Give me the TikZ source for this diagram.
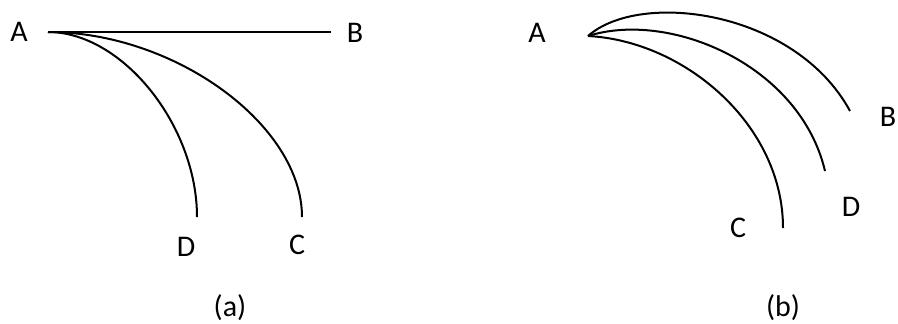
\documentclass[tikz,border=0pt]{standalone}
\usepackage{fontspec}
\setmainfont{Carlito}
\usetikzlibrary{positioning}
\tikzset{lbl/.style={inner sep=1pt}}

\begin{document}
\begin{tikzpicture}[x=0.5pt,y=-0.5pt,line width=1pt,font=\fontsize{15}{18}\selectfont]
\useasboundingbox (0,0) rectangle (898,323);
% (a)
\coordinate (aA) at (48,32);
\coordinate (aB) at (331,32);
\coordinate (aD) at (197,217);
\coordinate (aC) at (302,217);
\draw (aA) -- (aB);
\draw (aA) .. controls +(74,0) and +(0,-92) .. (aD);
\draw (aA) .. controls +(127,0) and +(0,-92) .. (aC);
\node[lbl] (laA) at (19,32) {A};
\node[lbl] (laB) at (355,33) {B};
\node[lbl] (laD) at (186,247) {D};
\node[lbl] (laC) at (297,245) {C};
\node[lbl] (capa) at (230,308) {(a)};
% (b)
\coordinate (bA) at (588,36);
\coordinate (bB) at (850,111);
\coordinate (bD) at (825,171);
\coordinate (bC) at (783,228);
\draw (bA) .. controls +(52,-46) and +(-55,-101) .. (bB);
\draw (bA) .. controls +(82,-26) and +(-25,-106) .. (bD);
\draw (bA) .. controls +(97,5) and +(0,-103) .. (bC);
\node[lbl] (lbA) at (537,33) {A};
\node[lbl] (lbB) at (888,117) {B};
\node[lbl] (lbD) at (851,207) {D};
\node[lbl] (lbC) at (738,228) {C};
\node[lbl] (capb) at (783,308) {(b)};
\end{tikzpicture}
\end{document}
